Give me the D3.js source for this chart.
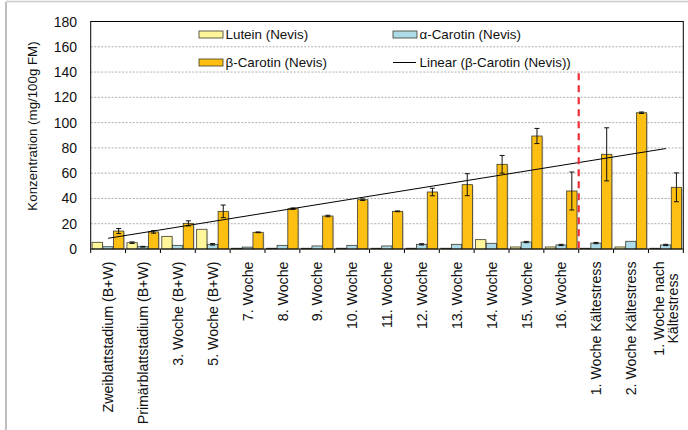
<!DOCTYPE html>
<html><head><meta charset="utf-8">
<script src="https://cdn.jsdelivr.net/npm/d3@7"></script>
<style>body{margin:0;background:#fff}svg{display:block;font-family:"Liberation Sans",Arial,sans-serif}</style>
</head><body><svg id="c" width="688" height="430"></svg>
<script>
const categories = ["Zweiblattstadium (B+W)","Primärblattstadium (B+W)","3. Woche (B+W)","5. Woche (B+W)","7. Woche","8. Woche","9. Woche","10. Woche","11. Woche","12. Woche","13. Woche","14. Woche","15. Woche","16. Woche","1. Woche Kältestress","2. Woche Kältestress","1. Woche nach\nKältestress"];
const lutein = [5.3,5.0,10.0,15.6,0.6,0.6,0.6,0.6,0.6,0.6,0.6,7.4,1.6,1.6,0.6,1.6,0.6];
const alphaCarotin = [1.8,1.8,2.9,3.7,1.5,2.9,2.4,2.9,2.4,3.7,3.7,4.5,5.5,3.2,4.7,6.1,3.2];
const betaCarotin = [14.2,13.5,20.3,29.8,13.2,31.9,26.1,39.0,29.8,45.1,50.9,67.0,89.4,45.9,74.9,107.8,48.8];
const luteinErr = [0,0.6,0,0,0,0,0,0,0,0,0,0,0,0,0,0,0];
const alphaErr = [0,0.3,0,0.6,0,0,0,0,0,0.5,0,0,0.5,0.5,0.5,0,0.5];
const betaErr = [2.0,1.0,2.0,5.0,0.3,0.6,0.6,0.6,0.3,3.0,8.7,7.0,6.0,15.0,21.0,0.6,11.4];
const yTicks = [0,20,40,60,80,100,120,140,160,180];
const seriesNames = ["Lutein (Nevis)","α-Carotin (Nevis)","β-Carotin (Nevis)","Linear (β-Carotin (Nevis))"];
const colors = ["#FFF59B","#AEDBE8","#FDBF12"];
const dividerIndex = 14;
const dividerTop = 139;

const svg = d3.select("#c");
const L = 90.7, R = 683.3, T = 21.5, B = 249;
const x = d3.scaleBand().domain(d3.range(categories.length)).range([L, R]).padding(0);
const y = d3.scaleLinear().domain([0,180]).range([B, T]);
const bw = x.bandwidth();
const sub = d3.scaleBand().domain([0,1,2]).range([0.04*bw, 0.95*bw]).paddingInner(0.04);

// outer frame
svg.append("line").attr("x1",6).attr("x2",6).attr("y1",2).attr("y2",430).attr("stroke","#aaa").attr("stroke-width",1.5);
svg.append("line").attr("x1",6).attr("x2",688).attr("y1",1.5).attr("y2",1.5).attr("stroke","#ccc").attr("stroke-width",1.5);

// gridlines
svg.append("g").selectAll("line").data(yTicks.filter(t=>t>0&&t<180)).join("line")
  .attr("x1",L).attr("x2",R).attr("y1",d=>y(d)).attr("y2",d=>y(d))
  .attr("stroke","#999").attr("stroke-dasharray","2,1.5").attr("stroke-width",0.8);

// y tick labels
svg.append("g").selectAll("text").data(yTicks).join("text")
  .attr("x",77).attr("y",d=>y(d)).attr("dy","0.36em").attr("text-anchor","end")
  .attr("font-size",14).attr("fill","#111").text(d=>d);

svg.append("text").attr("transform","translate(37,126) rotate(-90)").attr("text-anchor","middle")
  .attr("font-size",13.3).attr("fill","#111").text("Konzentration (mg/100g FM)");

// bars
const series = [lutein, alphaCarotin, betaCarotin];
const errs = [luteinErr, alphaErr, betaErr];
series.forEach((vals, s) => {
  const g = svg.append("g");
  g.selectAll("rect.sh").data(vals).join("rect")
    .attr("x",(d,i)=>x(i)+sub(s)+1.2).attr("y",d=>y(d)+1.2)
    .attr("width",sub.bandwidth()).attr("height",d=>Math.max(0,B-y(d)-1.2))
    .attr("fill","#bbb").attr("opacity",0.6);
  g.selectAll("rect.b").data(vals).join("rect")
    .attr("x",(d,i)=>x(i)+sub(s)).attr("y",d=>y(d))
    .attr("width",sub.bandwidth()).attr("height",d=>B-y(d))
    .attr("fill",colors[s]).attr("stroke","#3a3a2a").attr("stroke-width",0.8);
  const eg = svg.append("g").attr("stroke","#111").attr("stroke-width",1);
  vals.forEach((v,i)=>{
    const e = errs[s][i]; if (!e) return;
    const cx = x(i)+sub(s)+sub.bandwidth()/2;
    eg.append("line").attr("x1",cx).attr("x2",cx).attr("y1",y(v+e)).attr("y2",y(v-e));
    eg.append("line").attr("x1",cx-2.5).attr("x2",cx+2.5).attr("y1",y(v+e)).attr("y2",y(v+e));
    eg.append("line").attr("x1",cx-2.5).attr("x2",cx+2.5).attr("y1",y(v-e)).attr("y2",y(v-e));
  });
});

// linear trend of beta carotene
const n = betaCarotin.length;
const xs = d3.range(1,n+1);
const mx = d3.mean(xs), my = d3.mean(betaCarotin);
const slope = d3.sum(xs.map((v,i)=>(v-mx)*(betaCarotin[i]-my)))/d3.sum(xs.map(v=>(v-mx)*(v-mx)));
const icpt = my - slope*mx;
const cxOf = i => x(i)+bw/2;
svg.append("line").attr("x1",cxOf(0)).attr("x2",cxOf(n-1))
  .attr("y1",y(icpt+slope*1)).attr("y2",y(icpt+slope*n))
  .attr("stroke","#000").attr("stroke-width",1);

// red divider
svg.append("line").attr("x1",x(dividerIndex)).attr("x2",x(dividerIndex))
  .attr("y1",y(dividerTop)).attr("y2",B)
  .attr("stroke","#f0303a").attr("stroke-width",2.2).attr("stroke-dasharray","7,5");

// frame
svg.append("rect").attr("x",L).attr("y",T).attr("width",R-L).attr("height",B-T)
  .attr("fill","none").attr("stroke","#000").attr("stroke-width",1);

// x ticks
svg.append("g").selectAll("line").data(d3.range(categories.length+1)).join("line")
  .attr("x1",i=>L+i*bw).attr("x2",i=>L+i*bw).attr("y1",B).attr("y2",B+4)
  .attr("stroke","#000").attr("stroke-width",1);

// x labels
categories.forEach((c,i)=>{
  const lines = c.split("\n");
  const cx = cxOf(i);
  if (lines.length===1) {
    svg.append("text").attr("transform",`translate(${cx},261.5) rotate(-90)`)
      .attr("text-anchor","end").attr("dy","0.36em").attr("font-size",14.2).attr("fill","#111").text(c);
  } else {
    const t = svg.append("text").attr("transform",`translate(${cx},308.5) rotate(-90)`)
      .attr("text-anchor","middle").attr("font-size",14.2).attr("fill","#111");
    lines.forEach((ln,k)=>t.append("tspan").attr("x",0).attr("y",(k-(lines.length-1)/2)*14.5).attr("dy","0.36em").text(ln));
  }
});

// legend
const leg = [
  {x:199,y:34.5,type:"rect",c:colors[0],t:seriesNames[0]},
  {x:393,y:34.5,type:"rect",c:colors[1],t:seriesNames[1]},
  {x:199,y:62.5,type:"rect",c:colors[2],t:seriesNames[2]},
  {x:393,y:62.5,type:"line",c:"#000",t:seriesNames[3]}
];
leg.forEach(d=>{
  if (d.type==="rect") svg.append("rect").attr("x",d.x).attr("y",d.y-3.5).attr("width",24).attr("height",7)
      .attr("fill",d.c).attr("stroke","#3a3a2a").attr("stroke-width",0.8);
  else svg.append("line").attr("x1",d.x).attr("x2",d.x+23).attr("y1",d.y).attr("y2",d.y).attr("stroke","#000").attr("stroke-width",1);
  svg.append("text").attr("x",d.x+26.5).attr("y",d.y).attr("dy","0.36em").attr("font-size",13.4).attr("fill","#111").text(d.t);
});
</script></body></html>
